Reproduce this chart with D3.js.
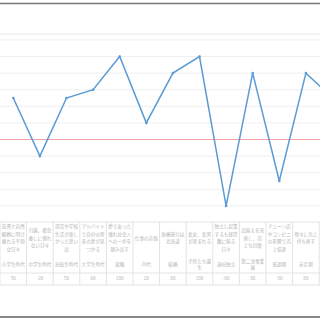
<!DOCTYPE html>
<html>
<head>
<meta charset="utf-8">
<script src="https://cdn.jsdelivr.net/npm/d3@7"></script>
<style>
  html, body { margin: 0; padding: 0; overflow: hidden; background: #fff; }
</style>
</head>
<body>
<div id="main"></div>
<script>
/* Data */
const events = [
  "読書と自然\n観察に明け\n暮れる平穏\nな日々",
  "引越、都会\n暮しに慣れ\nない日々",
  "部活や学校\n生活が楽し\nかった思い\n出",
  "アルバイト\nで自分の将\n来の夢が見\nつかる",
  "夢であった\n憧れ社会人\nへの一歩を\n踏み出す",
  "仕事の苦悩",
  "新婚旅行は\n北海道",
  "長女、長男\nが産まれる",
  "独立し起業\nするも経営\n難に陥る\n日々",
  "品揃えを見\n直し、売\n上も回復",
  "チェーン店\nやコンビニ\nの影響で売\n上低迷",
  "徐々に売上\n持ち直す",
  ""
];
const periods = [
  "小学生時代", "中学生時代", "高校生時代", "大学生時代", "就職", "20代",
  "結婚", "子供たち誕\n生", "退社独立", "第二次事業\n展", "低迷期", "安定期", ""
];
const values = [50, -20, 50, 60, 100, 20, 80, 100, -80, 80, -50, 80, 50];
const yTicks = [120, 100, 80, 60, 40, 20, 0, -20, -40, -60, -80];

/* Size */
const colW = 26.6;
const width = colW * values.length, height = 320;

const svg = d3.select("#main").append("svg")
  .attr("width", width).attr("height", height)
  .style("display", "block");

const x = d3.scaleBand().domain(d3.range(values.length)).range([0, width]);
const y = d3.scaleLinear().domain([-80, 120]).range([205.9, 39.9]);

/* frame lines */
svg.append("line").attr("x1", 0).attr("x2", width).attr("y1", 3.5).attr("y2", 3.5)
  .attr("stroke", "#777").attr("stroke-width", 1.5);
svg.append("line").attr("x1", 0).attr("x2", width).attr("y1", 34).attr("y2", 34)
  .attr("stroke", "#f2f2f2").attr("stroke-width", 2);
svg.append("line").attr("x1", 0).attr("x2", width).attr("y1", 317).attr("y2", 317)
  .attr("stroke", "#888").attr("stroke-width", 2);

/* grid */
svg.append("g").selectAll("line").data(yTicks).join("line")
  .attr("x1", 0).attr("x2", width)
  .attr("y1", d => y(d)).attr("y2", d => y(d))
  .attr("stroke", d => d === 0 ? "#f4a3a3" : "#efefef")
  .attr("stroke-width", 1);

/* line */
const line = d3.line().x((d, i) => x(i) + x.bandwidth() / 2).y(d => y(d));
svg.append("path").datum(values)
  .attr("d", line).attr("fill", "none")
  .attr("stroke", "#5b9bd5").attr("stroke-width", 1.5);
svg.append("g").selectAll("circle").data(values).join("circle")
  .attr("cx", (d, i) => x(i) + x.bandwidth() / 2).attr("cy", d => y(d))
  .attr("r", 1.3).attr("fill", "#5b9bd5");

/* table */
const tTop = 222, tMid = 273, tBot = 285;
const tbl = svg.append("g").attr("stroke", "#e3e3e3").attr("stroke-width", 1);
[tTop, tMid, tBot].forEach(v => tbl.append("line")
  .attr("x1", 0).attr("x2", width).attr("y1", v).attr("y2", v));
tbl.selectAll("line.v").data(d3.range(values.length + 1)).join("line")
  .attr("class", "v")
  .attr("x1", d => d * colW).attr("x2", d => d * colW)
  .attr("y1", tTop).attr("y2", tBot);

const font = "'Noto Sans CJK JP', sans-serif";
function multi(g, str, cy, lh) {
  const lines = str.split("\n");
  const t = g.append("text").attr("text-anchor", "middle")
    .attr("font-family", font).attr("font-size", 4.6).attr("fill", "#b3b3b3");
  lines.forEach((s, k) => t.append("tspan")
    .attr("x", 0).attr("y", cy + (k - (lines.length - 1) / 2) * lh + 1.6).text(s));
}
const cols = svg.append("g").selectAll("g").data(values).join("g")
  .attr("transform", (d, i) => `translate(${x(i) + x.bandwidth() / 2},0)`);
cols.each(function(d, i) {
  const g = d3.select(this);
  multi(g, events[i], 238, 7.6);
  multi(g, periods[i], 264.5, 6.5);
  if (i < 12) multi(g, String(d), 278, 7);
});
</script>
</body>
</html>
